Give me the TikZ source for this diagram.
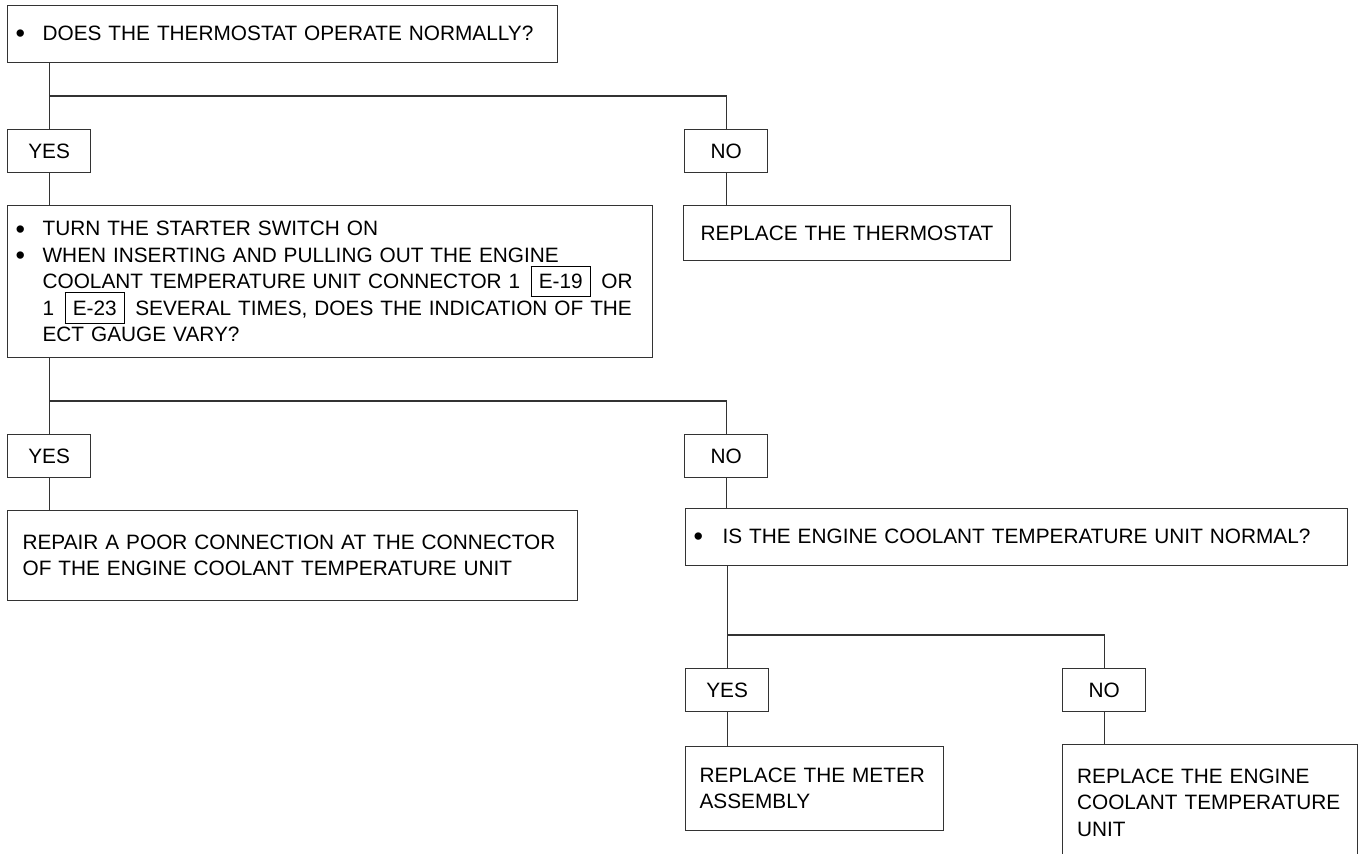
\documentclass[tikz,border=0pt]{standalone}
\usepackage{fontspec}
\setmainfont{Liberation Sans}
\usetikzlibrary{positioning}
\tikzstyle{block} = [draw=black!80, line width=0.6pt, rectangle, anchor=north west, align=left, inner ysep=0pt]
\tikzstyle{answer} = [draw=black!80, line width=0.6pt, rectangle, anchor=north west, minimum width=41.5pt, minimum height=21.5pt, inner sep=0pt]
\tikzstyle{link} = [draw=black!80, line width=0.6pt]
\newcommand{\chartfont}{\fontsize{10.4}{13.2}\selectfont}
\newcommand{\bigdot}{{\fontsize{13.5}{13.2}\selectfont\raisebox{-1.1pt}{\textbullet}}}
\newcommand{\bitem}{\makebox[13.5pt][l]{\bigdot}}
\newcommand{\bskip}{\hspace*{13.5pt}}
\newcommand{\connbox}[1]{\,\smash{\fbox{#1}}\,}
\setlength{\fboxsep}{3.6pt}
\setlength{\fboxrule}{0.5pt}

\begin{document}
\begin{tikzpicture}[x=0.5pt, y=-0.5pt, font=\chartfont]
\useasboundingbox (0,0) rectangle (1359,854);
\clip (0,0) rectangle (1359,854);

% thermostat check
\node [block, text width=267pt, inner xsep=4pt, minimum height=28.5pt] (check) at (7,5) {\bitem DOES THE THERMOSTAT OPERATE NORMALLY?};
\node [answer] (checkyes) at (7,129) {YES};
\node [answer] (checkno) at (684,129) {NO};
\node [block, text width=146.5pt, inner xsep=8.5pt, minimum height=27.5pt] (replthermo) at (683,205) {REPLACE THE THERMOSTAT};

% gauge check
\node [block, text width=314.5pt, inner xsep=4pt, minimum height=76pt] (gauge) at (7,205) {\bitem TURN THE STARTER SWITCH ON\\
\bitem WHEN INSERTING AND PULLING OUT THE ENGINE\\
\bskip COOLANT TEMPERATURE UNIT CONNECTOR 1 \connbox{E-19} OR\\
\bskip 1 \connbox{E-23} SEVERAL TIMES, DOES THE INDICATION OF THE\\
\bskip ECT GAUGE VARY?};
\node [answer] (gaugeyes) at (7,434) {YES};
\node [answer] (gaugeno) at (684,434) {NO};
\node [block, text width=270pt, inner xsep=7.5pt, minimum height=45pt] (repair) at (7,510) {REPAIR A POOR CONNECTION AT THE CONNECTOR\\ OF THE ENGINE COOLANT TEMPERATURE UNIT};

% sender unit check
\node [block, text width=323pt, inner xsep=4pt, minimum height=28.5pt] (unit) at (685,508) {\makebox[14.5pt][l]{\bigdot}IS THE ENGINE COOLANT TEMPERATURE UNIT NORMAL?};
\node [answer] (unityes) at (685,668) {YES};
\node [answer] (unitno) at (1062,668) {NO};
\node [block, text width=115pt, inner xsep=7pt, minimum height=42pt] (meter) at (685,746) {REPLACE THE METER\\ ASSEMBLY};
\node [block, text width=133pt, inner xsep=7.25pt, minimum height=58pt] (sensor) at (1062,744) {REPLACE THE ENGINE\\ COOLANT TEMPERATURE\\ UNIT};

% branches
\draw [link] (check.south -| checkyes) -- (checkyes);
\draw [link] (checkyes.north) ++(0,-33) -| (checkno.north);
\draw [link] (checkyes) -- (checkyes |- gauge.north);
\draw [link] (checkno) -- (checkno |- replthermo.north);

\draw [link] (gauge.south -| gaugeyes) -- (gaugeyes);
\draw [link] (gaugeyes.north) ++(0,-33) -| (gaugeno.north);
\draw [link] (gaugeyes) -- (gaugeyes |- repair.north);
\draw [link] (gaugeno) -- (gaugeno |- unit.north);

\draw [link] (unit.south -| unityes) -- (unityes);
\draw [link] (unityes.north) ++(0,-33) -| (unitno.north);
\draw [link] (unityes) -- (unityes |- meter.north);
\draw [link] (unitno) -- (unitno |- sensor.north);
\end{tikzpicture}
\end{document}
